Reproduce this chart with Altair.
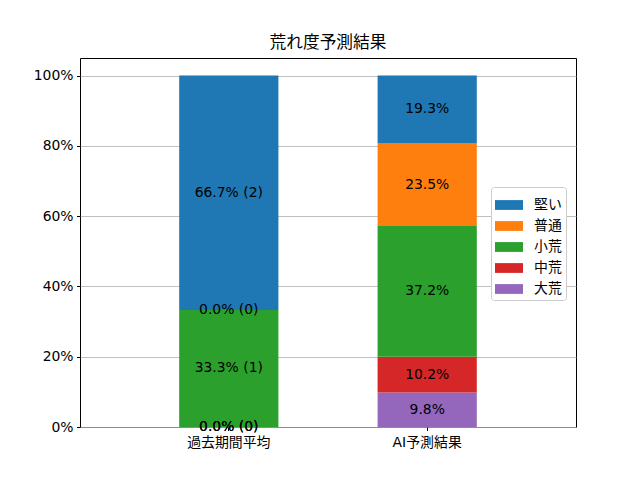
import altair as alt
import pandas as pd

categories = ["過去期間平均", "AI予測結果"]
classes = ["大荒", "中荒", "小荒", "普通", "堅い"]  # bottom to top
past_pct = [0.0, 0.0, 33.3, 0.0, 66.7]
past_cnt = [0, 0, 1, 0, 2]
ai_pct = [9.8, 10.2, 37.2, 23.5, 19.3]
legend_order = ["堅い", "普通", "小荒", "中荒", "大荒"]
colors = ["#1f77b4", "#ff7f0e", "#2ca02c", "#d62728", "#9467bd"]
yticks = [0, 20, 40, 60, 80, 100]

rows = []
for i, c in enumerate(classes):
    rows.append(dict(cat=categories[0], cls=c, order=i, pct=past_pct[i],
                     label=f"{past_pct[i]:.1f}% ({past_cnt[i]})"))
for i, c in enumerate(classes):
    rows.append(dict(cat=categories[1], cls=c, order=i, pct=ai_pct[i],
                     label=f"{ai_pct[i]:.1f}%"))
df = pd.DataFrame(rows)

font = "DejaVu Sans, Noto Sans CJK JP, sans-serif"

base = alt.Chart(df).transform_stack(
    stack="pct", groupby=["cat"], sort=[alt.SortField("order")], as_=["y0", "y1"]
).transform_calculate(mid="(datum.y0 + datum.y1) / 2")

x = alt.X("cat:N", sort=categories,
          scale=alt.Scale(paddingInner=0.5, paddingOuter=0.5),
          axis=alt.Axis(title=None, labelAngle=0, labelFont=font, labelFontSize=13.9,
                        labelColor="black", tickColor="black", tickSize=3.5,
                        labelPadding=5, domain=False, grid=False))

yscale = alt.Scale(domain=[0, 105], nice=False, zero=True)

bars = base.mark_bar().encode(
    x=x,
    y=alt.Y("y0:Q", scale=yscale,
            axis=alt.Axis(title=None, values=yticks, labelExpr="datum.value + '%'",
                          labelFont=font, labelFontSize=13.9, labelColor="black",
                          tickColor="black", tickSize=3.5, labelPadding=3.5,
                          domain=False, grid=True, gridColor="#b0b0b0", gridWidth=0.8)),
    y2="y1:Q",
    color=alt.Color("cls:N", scale=alt.Scale(domain=legend_order, range=colors),
                    legend=alt.Legend(title=None, orient="none", legendX=411, legendY=129,
                                      symbolType="M-1,-0.35H1V0.35H-1Z", symbolSize=784,
                                      symbolStrokeWidth=0, labelFont=font, labelFontSize=13.9,
                                      labelColor="black", padding=4, rowPadding=0,
                                      labelOffset=11, strokeColor="#cccccc",
                                      fillColor="white", cornerRadius=3)),
)

texts = base.mark_text(font=font, fontSize=13.9, color="black", baseline="middle",
                       align="center").encode(
    x=alt.X("cat:N", sort=categories),
    y=alt.Y("mid:Q", scale=yscale),
    text="label:N",
)

chart = alt.layer(bars, texts).properties(
    width=496, height=369,
    title=alt.TitleParams("荒れ度予測結果", font=font, fontSize=16.7, fontWeight="normal",
                          color="black", offset=6),
    autosize=alt.AutoSizeParams(type="none"),
    padding={"left": 72, "top": 50, "right": 56, "bottom": 45},
).configure_view(stroke="black", strokeWidth=1)

chart.save("out.html", embed_options={"renderer": "svg", "actions": False})
